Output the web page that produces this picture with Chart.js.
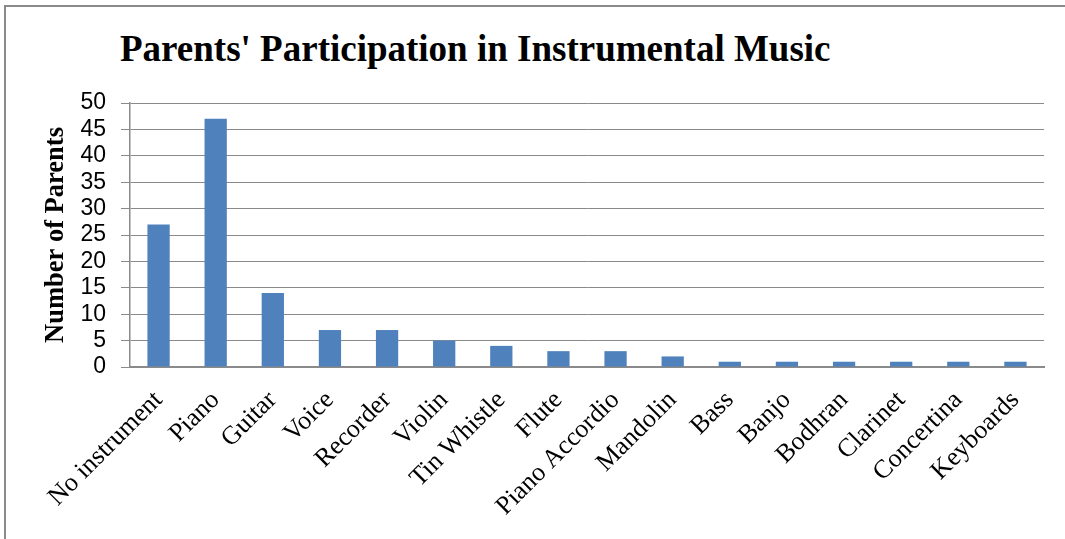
<!DOCTYPE html>
<html>
<head>
<meta charset="utf-8">
<script src="https://cdn.jsdelivr.net/npm/chart.js@4.4.1/dist/chart.umd.min.js"></script>
<style>
    body { margin: 0; background: #fff; }
    #wrap { position: relative; width: 1065px; height: 539px; overflow: hidden; }
    #frame {
        position: absolute; left: 4px; top: 5px; width: 1070px; height: 532px;
        border-left: 2px solid #8a8a8a; border-top: 2px solid #8a8a8a;
        border-bottom: 1px solid #d8d8d8;
    }
    #title {
        position: absolute; left: 120px; top: 27px;
        font: bold 37px "Liberation Serif", "Times New Roman", serif; color: #000;
        white-space: nowrap;
    }
    #bar_chart { position: absolute; left: 0; top: 0; }
</style>
</head>
<body>
<div id="wrap">
    <div id="frame"></div>
    <div id="title">Parents' Participation in Instrumental Music</div>
    <canvas id="bar_chart" width="1065" height="539"></canvas>
</div>
<script>
var instruments = ["No instrument", "Piano", "Guitar", "Voice", "Recorder", "Violin", "Tin Whistle",
    "Flute", "Piano Accordio", "Mandolin", "Bass", "Banjo", "Bodhran", "Clarinet", "Concertina", "Keyboards"];
var parents = [27, 47, 14, 7, 7, 5, 4, 3, 3, 2, 1, 1, 1, 1, 1, 1];
var yTicks = [0, 5, 10, 15, 20, 25, 30, 35, 40, 45, 50];

var gridGray = "#8a8a8a";

var config = {
    type: 'bar',
    data: {
        labels: instruments,
        datasets: [{
            label: "Number of Parents",
            data: parents,
            backgroundColor: '#4f81bd',
            barPercentage: 0.39,
            categoryPercentage: 1.0
        }]
    },
    options: {
        responsive: false,
        animation: false,
        layout: { padding: { top: 103, right: 21, left: 36, bottom: 0 } },
        plugins: {
            legend: { display: false },
            tooltip: { enabled: false }
        },
        scales: {
            x: {
                grid: { display: false },
                border: { display: true, color: gridGray, width: 2 },
                ticks: {
                    color: '#000',
                    font: { family: "'Liberation Serif', 'Times New Roman', serif", size: 26 },
                    maxRotation: 45,
                    minRotation: 45,
                    autoSkip: false,
                    padding: 10
                },
                afterFit: function (scale) { scale.height = 172; }
            },
            y: {
                min: 0,
                max: 50,
                afterBuildTicks: function (scale) {
                    scale.ticks = yTicks.map(function (v) { return { value: v }; });
                },
                grid: { color: gridGray, lineWidth: 1, tickLength: 9, drawTicks: true },
                border: { display: true, color: gridGray, width: 1.5 },
                ticks: {
                    color: '#000',
                    font: { family: "'Liberation Sans', Arial, sans-serif", size: 23 },
                    autoSkip: false,
                    padding: 15
                },
                title: {
                    display: true,
                    text: "Number of Parents",
                    color: '#000',
                    font: { family: "'Liberation Serif', 'Times New Roman', serif", size: 26.5, weight: 'bold' },
                    padding: { top: 4, bottom: 0 }
                },
                afterFit: function (scale) { scale.width = 94; }
            }
        }
    }
};

new Chart(document.getElementById("bar_chart").getContext("2d"), config);
</script>
</body>
</html>
